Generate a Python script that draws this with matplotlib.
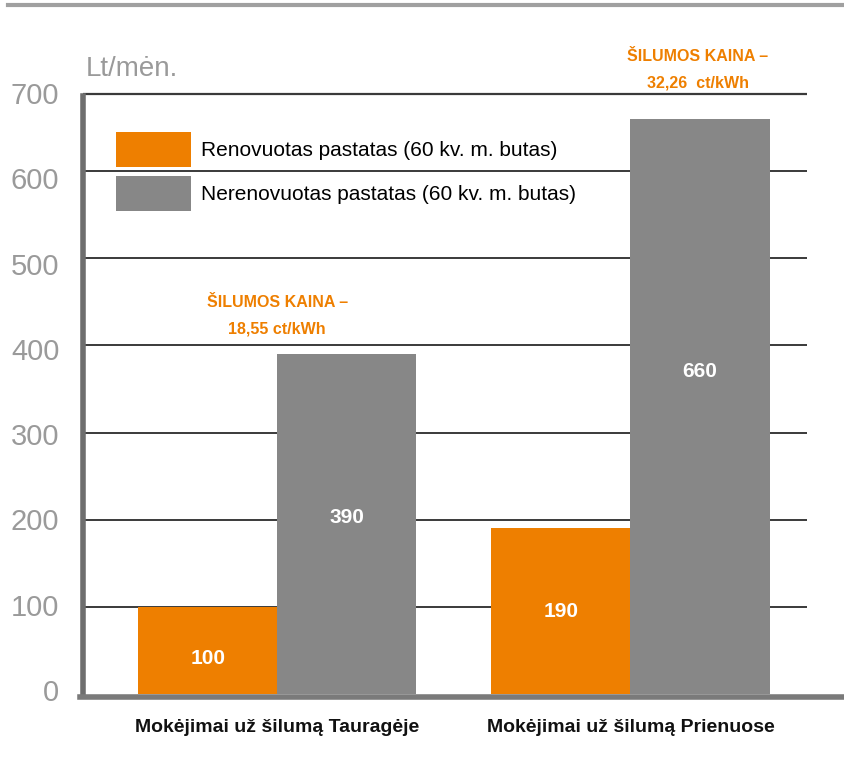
import matplotlib
matplotlib.use("Agg")
import matplotlib.pyplot as plt
import matplotlib.transforms as mtransforms
from matplotlib.lines import Line2D
from matplotlib.patches import Patch
import numpy as np

plt.rcParams['font.family'] = ['Liberation Sans', 'DejaVu Sans']

# data
groups = ['Mokėjimai už šilumą Tauragėje', 'Mokėjimai už šilumą Prienuose']
renovated = [100, 190]
not_renovated = [390, 660]
series_names = ['Renovuotas pastatas (60 kv. m. butas)',
                'Nerenovuotas pastatas (60 kv. m. butas)']
price_notes = ['ŠILUMOS KAINA –\n18,55 ct/kWh', 'ŠILUMOS KAINA –\n32,26  ct/kWh']
yticks = [0, 100, 200, 300, 400, 500, 600, 700]

orange = '#EE7F00'
grey = '#878787'

fig = plt.figure(figsize=(8.44, 7.64), dpi=100)
# axes: y=0 at 694 px, y=700 at 84 px
ax = fig.add_axes([0.0983, 0.0916, 0.858, 0.7984])

x = np.arange(len(groups))
w = 0.394
ax.bar(x - w / 2, renovated, w, color=orange, zorder=3)
ax.bar(x + w / 2, not_renovated, w, color=grey, zorder=3)

ax.set_xlim(-0.55, 1.50)
ax.set_ylim(0, 700)

# gridlines (top one drawn slightly lower, as in the original artwork)
for t in yticks[1:-1]:
    ax.axhline(t, color='#3a3a3a', lw=1.4, zorder=1)
ax.axhline(688, color='#3a3a3a', lw=1.6, zorder=1)

ax.set_yticks(yticks)
ax.set_yticklabels([str(t) for t in yticks], fontsize=21, color='#9a9a9a')
ax.tick_params(axis='y', length=0, pad=17)
# tick labels in the artwork drift from the gridlines (slightly above at 0, below at 700)
for t, lab in zip(yticks, ax.get_yticklabels()):
    shift = (-4 + 13 * t / 700) / 100
    off = mtransforms.ScaledTranslation(0, -shift, fig.dpi_scale_trans)
    lab.set_transform(lab.get_transform() + off)

ax.set_xticks(x)
ax.set_xticklabels(groups, fontsize=14, fontweight='bold', color='#111111')
ax.tick_params(axis='x', length=0, pad=18)

for s in ['top', 'right', 'bottom']:
    ax.spines[s].set_visible(False)
ax.spines['left'].set_color('#6e6e6e')
ax.spines['left'].set_linewidth(4)
ax.spines['left'].set_bounds(0, 686)

# bottom baseline extending to the right edge
fig.add_artist(Line2D([0.095, 1.0], [0.088, 0.088], color='#7a7a7a', lw=4,
                      transform=fig.transFigure))
# top rule
fig.add_artist(Line2D([0.01, 1.0], [0.993, 0.993], color='#a0a0a0', lw=3,
                      transform=fig.transFigure))

# value labels (position within bar as in the original)
ren_pos = [0.41, 0.50]
nonren_pos = [0.52, 0.56]
for i in range(len(groups)):
    ax.text(x[i] - w / 2, renovated[i] * ren_pos[i], str(renovated[i]),
            ha='center', va='center', color='white', fontsize=15, fontweight='bold', zorder=4)
    ax.text(x[i] + w / 2, not_renovated[i] * nonren_pos[i], str(not_renovated[i]),
            ha='center', va='center', color='white', fontsize=15, fontweight='bold', zorder=4)

note_x = [0.0, 1.19]
note_y = [410, 693]
for i in range(len(groups)):
    ax.text(note_x[i], note_y[i], price_notes[i], ha='center', va='bottom',
            color=orange, fontsize=11.5, fontweight='bold', linespacing=1.95,
            clip_on=False)

# unit label
fig.text(0.102, 0.901, 'Lt/mėn.', fontsize=20, color='#9a9a9a', ha='left', va='baseline')

# legend
handles = [Patch(facecolor=orange), Patch(facecolor=grey)]
ax.legend(handles, series_names, loc='upper left', bbox_to_anchor=(0.034, 0.935),
          frameon=False, fontsize=15, handlelength=3.6, handleheight=2.2,
          handletextpad=0.5, labelspacing=0.45, borderaxespad=0)

fig.savefig('out.png', dpi=100)
